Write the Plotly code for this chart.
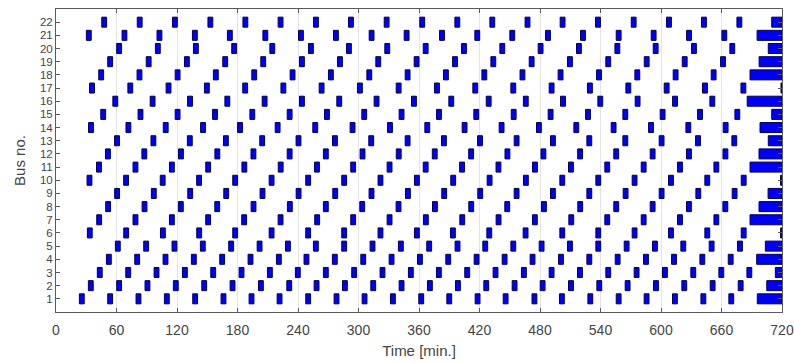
import plotly.graph_objects as go

# Charging-event mid times [min] per bus
bus01 = [25.6, 53.7, 81.8, 109.9, 138.0, 166.1, 193.9, 221.7, 250.1, 278.2, 306.0, 334.1, 362.2, 390.0, 418.1, 445.9, 474.5, 501.7, 529.9, 558.0, 585.7, 613.8, 642.0, 669.7]
bus02 = [34.5, 62.6, 90.7, 118.8, 147.0, 175.1, 203.2, 231.3, 258.4, 286.5, 314.6, 342.7, 370.8, 398.6, 426.7, 454.8, 482.6, 510.7, 538.8, 566.9, 595.0, 623.1, 651.2, 679.0]
bus03 = [43.4, 71.6, 99.7, 127.8, 155.9, 184.0, 212.1, 239.8, 267.6, 295.7, 323.8, 351.9, 379.7, 407.8, 435.9, 464.0, 491.5, 519.6, 547.7, 575.8, 603.9, 632.0, 659.8, 687.6]
bus04 = [52.4, 80.5, 108.6, 136.7, 164.8, 192.9, 221.0, 248.4, 276.5, 304.7, 332.8, 360.9, 389.0, 417.1, 444.9, 472.6, 500.8, 528.9, 557.0, 585.1, 612.9, 641.0, 669.1]
bus05 = [61.3, 89.4, 117.5, 145.6, 173.7, 201.9, 230.0, 257.7, 285.8, 313.9, 342.0, 370.1, 398.2, 425.7, 453.5, 481.6, 509.7, 537.8, 565.9, 594.0, 622.1, 650.2, 678.3]
bus06 = [33.5, 69.6, 106.0, 142.0, 177.7, 213.8, 250.1, 285.8, 321.8, 357.9, 393.6, 429.7, 465.7, 502.1, 537.8, 573.8, 609.9, 645.9, 682.0]
bus07 = [42.8, 78.8, 114.9, 150.9, 186.6, 222.7, 259.0, 294.7, 330.8, 366.8, 402.9, 438.9, 474.9, 511.0, 546.7, 582.8, 618.8, 654.9]
bus08 = [51.7, 87.8, 123.8, 159.9, 195.9, 231.9, 267.6, 303.7, 339.7, 375.8, 411.8, 447.5, 483.9, 519.9, 555.6, 591.7, 627.7, 663.8]
bus09 = [60.6, 97.0, 133.1, 168.8, 204.8, 240.6, 276.9, 312.9, 349.0, 385.0, 420.7, 456.8, 492.8, 528.9, 564.9, 600.6, 637.0, 673.0]
bus10 = [33.2, 69.5, 105.8, 141.9, 177.7, 213.8, 250.1, 285.8, 321.8, 357.9, 393.9, 430.0, 466.0, 502.1, 537.8, 573.8, 609.9, 645.9, 682.0]
bus11 = [42.6, 78.8, 114.9, 150.9, 186.8, 222.8, 258.8, 294.7, 330.8, 366.6, 402.7, 438.8, 475.0, 510.7, 546.7, 582.8, 618.8, 654.9]
bus12 = [51.5, 87.6, 123.9, 160.0, 195.8, 231.7, 267.6, 304.0, 339.9, 375.6, 411.7, 447.7, 483.4, 519.8, 555.6, 591.7, 627.7, 663.9]
bus13 = [60.5, 96.6, 132.7, 168.5, 204.5, 240.5, 276.6, 312.6, 348.7, 384.7, 420.5, 456.8, 492.8, 528.9, 564.6, 600.6, 636.7, 672.7]
bus14 = [34.7, 71.8, 108.8, 145.8, 182.5, 219.8, 257.1, 294.1, 331.2, 368.2, 405.2, 441.9, 478.9, 516.0, 553.0, 590.1, 627.1, 664.1]
bus15 = [46.8, 83.8, 120.6, 157.7, 194.7, 231.7, 268.7, 305.7, 342.7, 379.8, 416.8, 453.9, 490.5, 527.6, 564.6, 601.6, 638.7, 675.7]
bus16 = [58.8, 95.8, 132.9, 169.9, 206.9, 243.9, 280.9, 317.9, 355.0, 392.0, 429.1, 465.9, 502.8, 539.8, 576.8, 613.9, 650.9]
bus17 = [35.7, 73.7, 111.6, 149.6, 187.6, 225.5, 263.4, 301.4, 339.8, 377.8, 415.8, 453.5, 491.5, 529.5, 567.6, 605.6, 643.6, 681.7]
bus18 = [44.8, 82.8, 120.6, 158.5, 196.6, 234.6, 272.6, 310.7, 348.7, 386.7, 424.8, 462.6, 500.4, 538.5, 576.5, 614.5, 652.2]
bus19 = [53.7, 91.9, 129.8, 167.8, 205.5, 243.9, 281.6, 319.6, 357.6, 395.7, 433.7, 471.7, 509.7, 547.7, 585.8, 623.5, 661.5]
bus20 = [62.6, 101.0, 138.7, 176.7, 214.5, 252.8, 290.5, 328.5, 366.6, 404.6, 442.6, 480.6, 518.6, 556.7, 594.7, 632.7, 670.7]
bus21 = [32.5, 67.9, 102.6, 137.7, 172.4, 207.6, 242.9, 277.6, 313.0, 347.7, 382.8, 417.8, 452.5, 487.9, 522.6, 558.0, 592.7, 627.8, 662.8]
bus22 = [47.8, 83.0, 117.9, 153.1, 187.8, 222.7, 257.8, 292.5, 327.9, 363.2, 398.0, 432.7, 467.6, 502.4, 537.5, 572.9, 607.9, 642.6, 677.7]

# Start of the final (end-of-horizon) charging block for buses 1..22 [min]
end_start = [695.5, 704.9, 713.4, 694.9, 703.5, 718.6, 688.3, 697.2, 706.2, 718.6, 688.3,
             697.2, 706.4, 698.2, 709.8, 685.5, 719.0, 688.3, 697.3, 706.4, 695.3, 709.8]

horizon = 720
event_len = 4.8
x_ticks = [0, 60, 120, 180, 240, 300, 360, 420, 480, 540, 600, 660, 720]
bus_ids = list(range(1, 23))

buses = [bus01, bus02, bus03, bus04, bus05, bus06, bus07, bus08, bus09, bus10, bus11,
         bus12, bus13, bus14, bus15, bus16, bus17, bus18, bus19, bus20, bus21, bus22]

ys, bases, lens = [], [], []
for b, mids in zip(bus_ids, buses):
    for m in mids:
        ys.append(b)
        bases.append(m - event_len / 2)
        lens.append(event_len)
for b, s in zip(bus_ids, end_start):
    ys.append(b)
    bases.append(s)
    lens.append(horizon - s)

fig = go.Figure(go.Bar(
    orientation="h", y=ys, x=lens, base=bases, width=0.76,
    marker=dict(color="#0000f5", line=dict(color="#000050", width=1)),
    hoverinfo="skip", showlegend=False,
))

axis_col = "#5a5a5a"
fig.update_layout(
    width=794, height=363,
    margin=dict(l=56, r=12, t=9, b=51),
    paper_bgcolor="white", plot_bgcolor="white",
    font=dict(family="Liberation Sans, Arial, sans-serif", size=14, color="#444444"),
    barmode="overlay",
    xaxis=dict(range=[0, 720], tickvals=x_ticks, showgrid=True, gridcolor="#e4e4e4",
               gridwidth=1, zeroline=False, showline=True, linecolor=axis_col,
               mirror="ticks", ticks="inside", ticklen=4, tickcolor=axis_col,
               automargin=False, tickfont=dict(size=14), ticklabelstandoff=5,
               title=dict(text="Time [min.]", font=dict(size=15), standoff=8)),
    yaxis=dict(range=[0, 23], tickvals=bus_ids, showgrid=False, zeroline=False,
               showline=True, linecolor=axis_col, mirror="ticks", ticks="inside",
               ticklen=4, tickcolor=axis_col, automargin=False,
               tickfont=dict(size=11.5),
               title=dict(text="Bus no.", font=dict(size=15), standoff=10)),
)

fig.write_html(
    "out.html",
    config={"displayModeBar": False},
    post_script="document.body.style.margin='0';document.body.style.overflow='hidden';",
)
